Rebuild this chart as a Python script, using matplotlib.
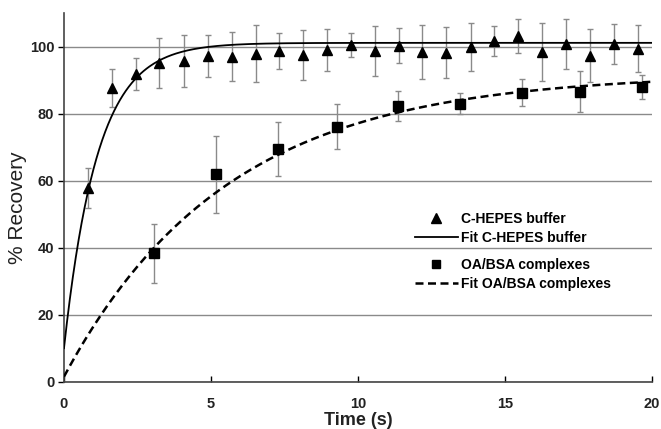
import numpy as np
import matplotlib
matplotlib.use('Agg')
import matplotlib.pyplot as plt
from matplotlib.lines import Line2D

plt.rcParams['font.family'] = ['Liberation Sans', 'DejaVu Sans']

# ── data ─────────────────────────────────────────────────────────────────────
t_hepes = [0.83, 1.62, 2.45, 3.24, 4.07, 4.89, 5.70, 6.53, 7.32, 8.14, 8.93, 9.75,
           10.58, 11.39, 12.19, 13.01, 13.83, 14.64, 15.45, 16.25, 17.07, 17.89, 18.71, 19.52]
rec_hepes = [57.9, 87.6, 91.9, 95.2, 95.7, 97.3, 97.1, 98.0, 98.7, 97.5, 99.1, 100.6,
             98.8, 100.4, 98.4, 98.2, 100.0, 101.8, 103.3, 98.4, 100.8, 97.3, 100.9, 99.5]
err_hepes = [5.9, 5.7, 4.7, 7.5, 7.7, 6.3, 7.3, 8.6, 5.4, 7.4, 6.3, 3.5,
             7.5, 5.1, 8.0, 7.6, 7.2, 4.4, 5.0, 8.6, 7.5, 7.9, 6.0, 7.1]

t_oa = [3.07, 5.17, 7.27, 9.27, 11.37, 13.47, 15.57, 17.55, 19.65]
rec_oa = [38.3, 61.9, 69.5, 76.2, 82.4, 83.0, 86.3, 86.6, 88.0]
err_oa = [8.8, 11.6, 8.2, 6.6, 4.5, 3.2, 4.1, 6.2, 3.6]

# one-phase exponential fits: y = plateau - (plateau - y0) * exp(-k t)
fit_hepes = dict(y0=10.0, plateau=101.2, k=0.88)
fit_oa = dict(y0=1.5, plateau=92.0, k=0.181)

xticks = [0, 5, 10, 15, 20]
yticks = [0, 20, 40, 60, 80, 100]

# ── figure ───────────────────────────────────────────────────────────────────
fig = plt.figure(figsize=(6.61, 4.29), dpi=100)
ax = fig.add_axes([0.0968, 0.1103, 0.8896, 0.8585])

ax.yaxis.grid(True, color='#8a8a8a', linewidth=1.0)
ax.set_axisbelow(True)

tt = np.linspace(0, 20, 400)
def expfit(p):
    return p['plateau'] - (p['plateau'] - p['y0']) * np.exp(-p['k'] * tt)

DASH = (3.2, 1.8)
ax.plot(tt, expfit(fit_hepes), color='black', linewidth=1.3, zorder=3)
ax.plot(tt, expfit(fit_oa), color='black', linewidth=1.8, dashes=DASH, zorder=3)

ax.errorbar(t_hepes, rec_hepes, yerr=err_hepes, fmt='none', ecolor='#8a8a8a',
            elinewidth=1.0, capsize=2.2, capthick=1.0, zorder=2)
ax.errorbar(t_oa, rec_oa, yerr=err_oa, fmt='none', ecolor='#8a8a8a',
            elinewidth=1.0, capsize=2.2, capthick=1.0, zorder=2)
ax.plot(t_hepes, rec_hepes, linestyle='none', marker='^', markersize=7.5,
        color='black', zorder=4)
ax.plot(t_oa, rec_oa, linestyle='none', marker='s', markersize=6.5,
        color='black', zorder=4)

ax.set_xlim(0, 20)
ax.set_ylim(0, 110)
ax.set_xticks(xticks)
ax.set_yticks(yticks)
ax.tick_params(axis='x', direction='in', length=4, width=1, pad=11, labelsize=10.5)
ax.tick_params(axis='y', direction='out', length=4, width=1, pad=3, labelsize=10.5)
for lab in ax.get_xticklabels() + ax.get_yticklabels():
    lab.set_fontweight('bold')
    lab.set_color('#222222')

for s in ['top', 'right']:
    ax.spines[s].set_visible(False)
for s in ['left', 'bottom']:
    ax.spines[s].set_color('#444444')
    ax.spines[s].set_linewidth(1.2)

ax.set_xlabel('Time (s)', fontsize=13, fontweight='bold', color='#222222')
ax.set_ylabel('% Recovery', fontsize=15, color='#222222')
ax.xaxis.set_label_coords(0.5, -0.082)
ax.yaxis.set_label_coords(-0.063, 0.472)

# legends (two groups, no frame)
lp = dict(weight='bold', size=10)
h1 = [Line2D([], [], linestyle='none', marker='^', markersize=7, color='black'),
      Line2D([], [], color='black', linewidth=1.3)]
h2 = [Line2D([], [], linestyle='none', marker='s', markersize=6, color='black'),
      Line2D([], [], color='black', linewidth=1.8, dashes=DASH)]
leg1 = ax.legend(h1, ['C-HEPES buffer', 'Fit C-HEPES buffer'], loc='upper left',
                 bbox_to_anchor=(408 / 661, 1 - 205 / 429), bbox_transform=fig.transFigure,
                 frameon=False, prop=lp, borderpad=0, labelspacing=0.35,
                 handlelength=3.1, handletextpad=0.2)
ax.add_artist(leg1)
ax.legend(h2, ['OA/BSA complexes', 'Fit OA/BSA complexes'], loc='upper left',
          bbox_to_anchor=(408 / 661, 1 - 251 / 429), bbox_transform=fig.transFigure,
          frameon=False, prop=lp, borderpad=0, labelspacing=0.35,
          handlelength=3.1, handletextpad=0.2)

fig.savefig('out.png', dpi=100)
